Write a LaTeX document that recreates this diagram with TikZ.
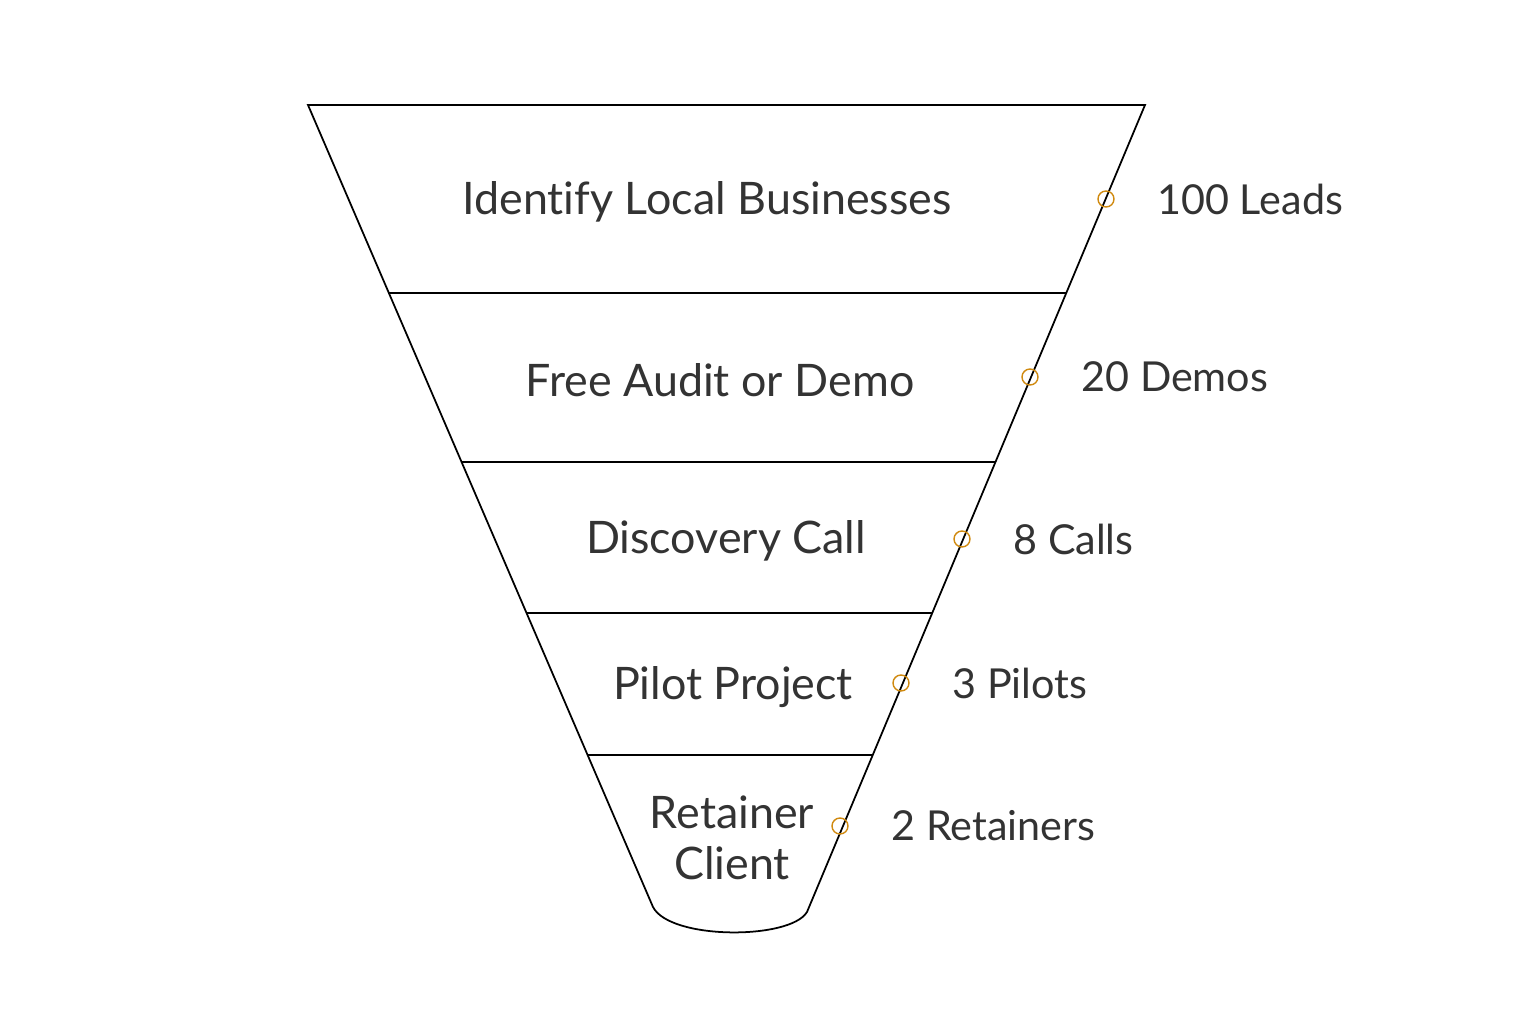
\documentclass[tikz,border=0pt]{standalone}
\usepackage{fontspec}
\setmainfont{Lato}[Ligatures=NoCommon]
\usetikzlibrary{positioning}
\definecolor{ink}{HTML}{333333}
\definecolor{dotorange}{HTML}{D08A10}

\begin{document}
\begin{tikzpicture}[
  x=0.02cm, y=-0.02cm,
  node distance=0.85cm,
  stage/.style={font=\fontsize{25.5}{29}\selectfont,text=ink,align=center},
  count/.style={font=\fontsize{23.5}{28}\selectfont,text=ink,inner sep=0pt},
  marker/.style={draw=dotorange,circle,inner sep=0pt,minimum size=0.32cm,line width=0.8pt}
]
\useasboundingbox (0,0) rectangle (1536,1024);
% funnel outline
\coordinate (tl) at (308,105);
\coordinate (tr) at (1145,105);
\coordinate (bl) at (653,907);
\coordinate (br) at (807,912);
\draw[line width=1pt] (tl) -- (tr) -- (br) .. controls (790,940) and (670,940) .. (bl) -- cycle;
% dividers
\foreach \y in {293,462,613,755}
  \draw[line width=1pt] (intersection of tl--bl and 0,\y--10,\y) -- (intersection of tr--br and 0,\y--10,\y);

% stages
\node[stage] (identify) at (707,202) {Identify Local Businesses};
\node[stage] (audit) at (720,380) {Free Audit or Demo};
\node[stage] (discovery) at (726,541) {Discovery Call};
\node[stage] (pilot) at (733,687) {Pilot Project};
\node[stage] (retainer) at (732,838) {Retainer\\Client};

% markers and counts
\node[marker] (m1) at (1106,199) {};
\node[marker] (m2) at (1030,377) {};
\node[marker] (m3) at (962,539) {};
\node[marker] (m4) at (901,683) {};
\node[marker] (m5) at (840,826) {};
\node[count,right=of m1] (leads) {100 Leads};
\node[count,right=of m2] (demos) {20 Demos};
\node[count,right=of m3] (calls) {8 Calls};
\node[count,right=of m4] (pilots) {3 Pilots};
\node[count,right=of m5] (retainers) {2 Retainers};
\end{tikzpicture}
\end{document}
